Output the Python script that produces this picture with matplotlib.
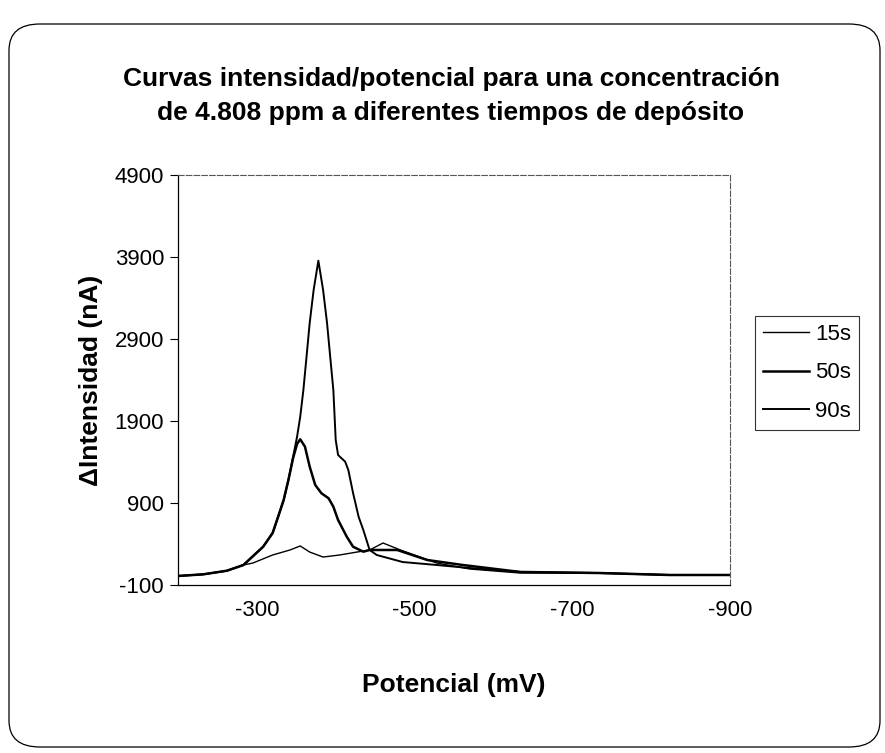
import matplotlib
matplotlib.use("Agg")
import matplotlib.pyplot as plt
from matplotlib.patches import FancyBboxPatch

plt.rcParams['font.family'] = ['Liberation Sans', 'DejaVu Sans']

# ---- data ----
pot_15 = [-200, -232, -262, -283, -295, -320, -342, -355, -367, -384, -405, -427, -443,
          -460, -482, -507, -528, -570, -634, -735, -824, -900]
int_15 = [10, 30, 74, 144, 168, 266, 327, 376, 302, 241, 266, 302, 327,
          412, 327, 241, 168, 95, 46, 46, 22, 22]

pot_50 = [-200, -232, -262, -283, -308, -320, -327, -334, -340, -346, -351, -355, -361,
          -367, -374, -382, -391, -397, -403, -414, -422, -435, -443, -478, -516, -561,
          -634, -735, -824, -900]
int_50 = [10, 30, 74, 144, 367, 534, 733, 937, 1180, 1450, 1620, 1677, 1587,
          1343, 1120, 1018, 957, 855, 693, 489, 367, 306, 327, 327, 205, 144,
          59, 46, 22, 22]

pot_90 = [-200, -232, -262, -283, -308, -320, -327, -334, -340, -346, -351, -355, -359,
          -363, -367, -372, -378, -384, -389, -393, -397, -400, -403, -412, -416, -422,
          -429, -435, -443, -452, -485, -528, -570, -634, -735, -824, -900]
int_90 = [10, 30, 74, 144, 367, 534, 733, 937, 1180, 1465, 1709, 1952, 2278,
          2684, 3095, 3498, 3855, 3498, 3095, 2684, 2278, 1668, 1485, 1404, 1302, 1022,
          733, 571, 327, 266, 180, 144, 107, 59, 46, 22, 22]

labels = ['15s', '50s', '90s']
x_ticks = [-300, -500, -700, -900]
y_ticks = [-100, 900, 1900, 2900, 3900, 4900]

title = "Curvas intensidad/potencial para una concentración\nde 4.808 ppm a diferentes tiempos de depósito"

# ---- figure ----
W, H = 885, 753
fig = plt.figure(figsize=(W / 100, H / 100), dpi=100)
fig.patch.set_facecolor('white')

# rounded chart-area border
border = FancyBboxPatch((9 / W, 6 / H), (W - 14) / W, (H - 30) / H,
                        boxstyle="round,pad=0,rounding_size=0.035",
                        transform=fig.transFigure, fill=False,
                        edgecolor='black', linewidth=0.9)
fig.patches.append(border)

left, right, top, bottom = 178, 730, 175, 585
ax = fig.add_axes([left / W, 1 - bottom / H, (right - left) / W, (bottom - top) / H])

ax.plot(pot_15, int_15, color='black', lw=1.0, label=labels[0])
ax.plot(pot_50, int_50, color='black', lw=1.8, label=labels[1])
ax.plot(pot_90, int_90, color='black', lw=1.4, label=labels[2])

ax.set_xlim(-200, -900)
ax.set_ylim(-100, 4900)
ax.set_xticks(x_ticks)
ax.set_xticklabels([str(v) for v in x_ticks])
ax.set_yticks(y_ticks)
ax.set_yticklabels([str(v) for v in y_ticks])
ax.tick_params(axis='y', direction='out', length=6, width=0.8, labelsize=16, pad=4)
ax.tick_params(axis='x', length=0, labelsize=16, pad=11)

for s in ['left', 'bottom']:
    ax.spines[s].set_color('black')
    ax.spines[s].set_linewidth(0.9)
for s in ['top', 'right']:
    ax.spines[s].set_color('#555555')
    ax.spines[s].set_linewidth(0.8)
    ax.spines[s].set_linestyle((0, (5, 2)))

ax.set_ylabel('\u0394Intensidad (nA)', fontsize=19, fontweight='bold')
ax.yaxis.set_label_coords(-(178 - 103) / 552, 0.5)
ax.set_xlabel('Potencial (mV)', fontsize=19, fontweight='bold')
ax.xaxis.set_label_coords(0.5, -(673 - 585) / 410)

fig.text(451 / W, 1 - 96 / H, title, ha='center', va='center', fontsize=19,
         fontweight='bold', linespacing=1.5)

leg = ax.legend(loc='center left', bbox_to_anchor=((755 - 178) / 552, (585 - 373) / 410),
                frameon=True, fontsize=16, handlelength=2.1, handletextpad=0.25,
                labelspacing=0.8, borderpad=0.35, fancybox=False, borderaxespad=0)
leg.get_frame().set_edgecolor('black')
leg.get_frame().set_linewidth(0.8)

fig.savefig('out.png', dpi=100)
